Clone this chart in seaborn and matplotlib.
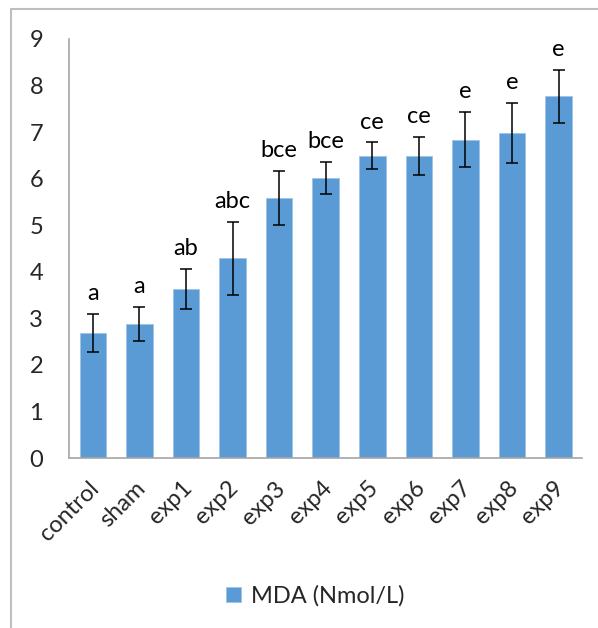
import numpy as np
import pandas as pd
import matplotlib
matplotlib.use("Agg")
import matplotlib.pyplot as plt
import matplotlib.transforms as mtransforms
import seaborn as sns
from matplotlib.lines import Line2D

# values
groups = ["control", "sham", "exp1", "exp2", "exp3", "exp4",
          "exp5", "exp6", "exp7", "exp8", "exp9"]
mda_mean = [2.69, 2.88, 3.64, 4.29, 5.58, 6.02, 6.49, 6.49, 6.84, 6.98, 7.77]
mda_err = [0.41, 0.36, 0.43, 0.78, 0.58, 0.34, 0.29, 0.41, 0.59, 0.65, 0.57]
letters = ["a", "a", "ab", "abc", "bce", "bce", "ce", "ce", "e", "e", "e"]
y_ticks = list(range(0, 10))

bar_color = "#5B9BD5"
axis_gray = "#A6A6A6"

sns.set_style("white")
plt.rcParams["font.family"] = ["Lato", "DejaVu Sans"]

df = pd.DataFrame({"group": groups, "mda": mda_mean})

fig = plt.figure(figsize=(5.98, 6.28), dpi=100)
ax = fig.add_axes([0.1162, 0.2707, 0.857, 0.6672])

sns.barplot(data=df, x="group", y="mda", color=bar_color, width=0.57,
            saturation=1, edgecolor="#9DC3E6", linewidth=0.6,
            label="MDA (Nmol/L)", ax=ax)

xpos = np.arange(len(groups))
ax.errorbar(xpos, mda_mean, yerr=mda_err, fmt="none", ecolor="black",
            elinewidth=1.1, capsize=4.5, capthick=1.1)

for x, m, e, lab in zip(xpos, mda_mean, mda_err, letters):
    ax.annotate(lab, (x, m + e), xytext=(0, 7), textcoords="offset points",
                ha="center", va="bottom", fontsize=17, color="black")

ax.set_xlim(-0.5, len(groups) - 0.5)
ax.set_ylim(0, 9)
ax.set_yticks(y_ticks)
ax.set_yticklabels([str(t) for t in y_ticks], fontsize=17)
ax.set_xticks(xpos)
ax.set_xticklabels(groups, rotation=45, ha="right", rotation_mode="anchor",
                   fontsize=17)
ax.tick_params(axis="x", length=0, pad=14)
ax.tick_params(axis="y", length=0, pad=19)
ax.set_xlabel("")
ax.set_ylabel("")

# nudge rotated category labels a little to the left
shift = mtransforms.ScaledTranslation(-5 / 100, 0, fig.dpi_scale_trans)
for lbl in ax.get_xticklabels():
    lbl.set_transform(lbl.get_transform() + shift)

for side in ["top", "right"]:
    ax.spines[side].set_visible(False)
for side in ["left", "bottom"]:
    ax.spines[side].set_color(axis_gray)
    ax.spines[side].set_linewidth(1.2)

handles, labels = ax.get_legend_handles_labels()
if ax.get_legend() is not None:
    ax.get_legend().remove()
fig.legend(handles, labels, loc="center", bbox_to_anchor=(0.527, 0.051),
           frameon=False, fontsize=17, handlelength=0.65, handleheight=0.65,
           handletextpad=0.4)

# chart area frame (only left and top edges are visible in the reference)
fig.add_artist(Line2D([0.018, 0.018], [0, 0.986], transform=fig.transFigure,
                      color="#BFBFBF", linewidth=1.5))
fig.add_artist(Line2D([0.018, 1.0], [0.986, 0.986], transform=fig.transFigure,
                      color="#BFBFBF", linewidth=1.5))

fig.savefig("out.png", dpi=100)
